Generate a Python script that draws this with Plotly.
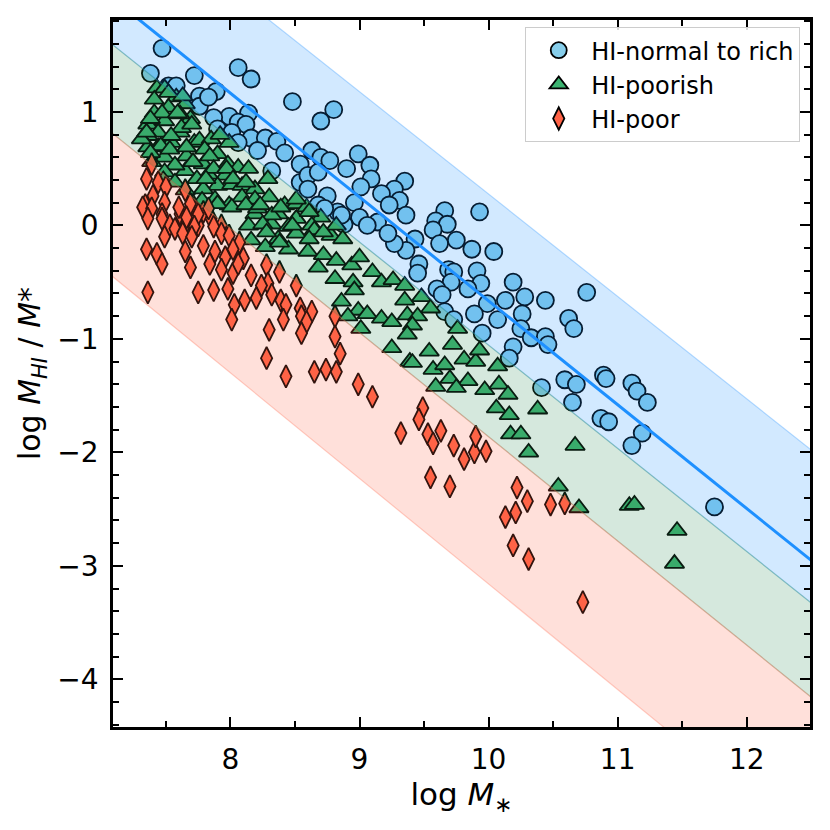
import plotly.graph_objects as go

# HI-normal to rich (circles)
normal_x = [7.47, 7.38, 7.72, 8.06, 8.16, 7.52, 7.58, 7.76, 7.89, 7.76, 7.83, 8.48, 8.80, 8.70, 8.14,
            7.99, 8.06, 7.87, 7.90, 8.12, 8.01, 8.16, 8.27, 8.36, 8.21, 8.42, 8.06, 8.54, 8.63, 8.70,
            8.77, 8.99, 8.90, 9.08, 9.09, 8.54, 8.60, 8.68, 8.60, 8.75, 9.35, 9.27, 9.17, 9.01, 8.96,
            9.31, 9.36, 9.23, 8.83, 9.00, 9.14, 8.32, 8.88, 9.06, 8.68, 9.66, 9.93, 9.59, 9.68, 9.57,
            9.43, 9.62, 9.75, 9.87, 10.04, 9.36, 9.46, 9.45, 9.69, 9.73, 9.91, 9.71, 9.94, 9.84, 9.60,
            9.64, 10.19, 10.28, 10.13, 9.99, 10.44, 10.76, 10.26, 9.89, 9.66, 10.07, 9.73, 10.25, 9.95, 10.33,
            10.44, 10.46, 10.62, 10.66, 10.19, 10.16, 10.89, 10.59, 10.68, 11.11, 11.15, 11.23, 10.41, 10.65, 10.87,
            10.93, 11.19, 11.11, 11.75, 10.91, 9.27, 9.22, 8.73, 8.86]
normal_y = [1.56, 1.34, 1.32, 1.39, 1.29, 1.23, 1.23, 1.14, 1.18, 1.05, 1.13, 1.09, 1.02, 0.92, 0.99,
            0.96, 0.91, 0.95, 0.85, 0.89, 0.82, 0.77, 0.77, 0.74, 0.66, 0.64, 0.73, 0.54, 0.66, 0.60,
            0.57, 0.63, 0.50, 0.53, 0.41, 0.38, 0.44, 0.47, 0.32, 0.26, 0.39, 0.32, 0.28, 0.34, 0.20,
            0.22, 0.09, 0.18, 0.12, 0.07, 0.03, 0.48, 0.01, 0.00, 0.18, 0.13, 0.12, 0.04, 0.01, -0.04,
            -0.12, -0.16, -0.13, -0.21, -0.23, -0.22, -0.34, -0.42, -0.39, -0.41, -0.40, -0.50, -0.51, -0.56, -0.56,
            -0.61, -0.50, -0.63, -0.66, -0.69, -0.66, -0.59, -0.78, -0.78, -0.76, -0.83, -0.83, -0.91, -0.95, -0.99,
            -0.98, -1.05, -0.82, -0.91, -1.07, -1.17, -1.32, -1.36, -1.40, -1.39, -1.46, -1.56, -1.43, -1.56, -1.70,
            -1.73, -1.83, -1.94, -2.48, -1.35, -0.16, -0.07, 0.15, 0.09]

# HI-poorish (triangles)
poorish_x = [7.43, 7.49, 7.41, 7.58, 7.65, 7.52, 7.41, 7.69, 7.61, 7.49, 7.36, 7.44, 7.61, 7.54, 7.36,
             7.36, 7.44, 7.66, 7.49, 7.72, 7.76, 7.85, 7.99, 7.80, 7.90, 7.98, 8.06, 8.14, 7.79, 7.65,
             7.57, 7.49, 7.83, 7.74, 7.96, 7.90, 8.01, 8.09, 8.19, 8.29, 7.79, 8.09, 8.19, 8.30, 7.88,
             7.99, 7.78, 8.42, 8.51, 8.59, 8.37, 8.19, 8.51, 8.70, 8.32, 8.14, 8.63, 8.45,
             7.31, 7.39, 7.48, 7.57, 7.65,
             7.90, 8.01, 8.12, 8.21, 8.32, 8.39, 8.51, 8.65, 8.78, 8.25, 8.37, 8.27, 8.16, 8.45, 8.60,
             8.72, 8.82, 8.94, 9.00, 9.10, 8.68, 8.81, 8.95, 8.96, 9.17, 9.26, 9.35, 8.86, 8.99, 9.06,
             9.17, 9.25, 9.35, 9.37, 8.91, 9.01, 9.25, 9.39,
             9.48, 9.55, 9.45, 9.41, 9.37, 9.76, 9.72, 9.54, 9.41, 9.57, 9.66, 9.81, 9.90, 9.93, 9.70,
             9.84, 10.07, 9.97, 10.08, 10.15, 9.59, 9.75, 10.06, 10.38,
             10.16, 10.17, 10.25, 10.31, 10.67, 10.54, 10.70, 11.09, 11.13, 11.46, 11.44,
             7.52, 7.63, 7.47, 7.59, 7.38, 7.62, 7.70, 7.35, 7.54, 7.46, 7.38, 7.53, 7.66, 7.92, 7.71,
             7.84, 7.87, 7.97, 8.02, 8.12, 7.81, 8.23, 8.51, 8.61, 8.82, 8.87, 8.48, 8.28, 8.38, 8.61,
             8.72]
poorish_y = [1.21, 1.21, 1.11, 1.13, 1.07, 1.04, 0.99, 0.94, 0.98, 0.92, 0.89, 0.82, 0.82, 0.73, 0.79,
             0.69, 0.69, 0.61, 0.60, 0.73, 0.75, 0.76, 0.73, 0.67, 0.63, 0.54, 0.51, 0.50, 0.54, 0.48,
             0.53, 0.47, 0.45, 0.41, 0.44, 0.35, 0.36, 0.35, 0.32, 0.41, 0.32, 0.25, 0.23, 0.25, 0.23,
             0.18, 0.22, 0.18, 0.19, 0.16, 0.10, 0.10, 0.06, 0.07, 0.01, 0.00, 0.00, -0.01,
             0.76, 0.56, 0.40, 0.38, 0.31,
             0.19, 0.16, 0.18, 0.15, 0.09, 0.16, -0.07, -0.04, -0.09, 0.01, -0.12, -0.19, -0.13, -0.21, -0.23,
             -0.26, -0.31, -0.35, -0.28, -0.41, -0.37, -0.47, -0.50, -0.57, -0.50, -0.48, -0.53, -0.67, -0.75, -0.78,
             -0.82, -0.85, -0.66, -0.79, -0.80, -0.91, -1.08, -1.20,
             -0.63, -0.73, -0.80, -0.88, -0.96, -0.91, -1.05, -1.11, -1.21, -1.27, -1.23, -1.18, -1.20, -1.10, -1.35,
             -1.37, -1.24, -1.45, -1.40, -1.49, -1.42, -1.43, -1.61, -1.62,
             -1.67, -1.84, -1.84, -2.00, -1.94, -2.30, -2.49, -2.47, -2.46, -2.69, -2.98,
             1.17, 1.14, 0.99, 0.99, 0.94, 0.86, 0.89, 0.82, 0.79, 0.70, 0.64, 0.67, 0.69, 0.80, 0.56,
             0.61, 0.50, 0.50, 0.41, 0.38, 0.41, 0.18, 0.23, 0.12, 0.00, -0.12, 0.00, -0.06, -0.15, -0.12,
             -0.06]

# HI-poor (diamonds)
poor_x = [7.39, 7.35, 7.44, 7.50, 7.65, 7.34, 7.49, 7.40, 7.71, 7.61, 7.47, 7.79, 7.85, 7.66, 7.75,
          7.93, 7.53, 7.32, 7.39, 7.60, 7.69, 7.75, 7.83, 7.36, 7.47, 7.57, 7.66, 7.72, 7.63, 7.49,
          7.35, 7.43, 7.47, 7.70, 7.79, 7.65, 7.69, 7.87, 7.93, 7.99, 8.07, 7.88, 7.96, 8.02, 8.10,
          7.84, 7.93, 8.02, 8.16, 8.06, 8.28, 8.38, 8.29, 8.24, 8.51, 7.36, 7.75, 7.87, 7.98, 8.11,
          8.20, 8.32, 8.39, 8.03, 8.43, 8.54, 8.63, 8.01, 8.41, 8.55, 8.59, 8.81, 8.30, 8.55, 8.81,
          8.85, 8.28, 8.65, 8.74, 8.82, 8.43, 8.99, 9.10,
          9.49, 9.46, 9.32, 9.53, 9.57, 9.63, 9.73, 9.81, 9.89, 9.90, 9.98, 9.55, 9.70, 10.22, 10.30,
          10.48, 10.59, 10.21, 10.13, 10.19, 10.31, 10.73]
poor_y = [0.54, 0.41, 0.38, 0.34, 0.31, 0.18, 0.20, 0.26, 0.18, 0.10, 0.10, 0.12, 0.06, 0.03, 0.00,
          0.00, 0.00, 0.16, 0.15, 0.16, 0.19, 0.10, 0.15, 0.06, 0.06, -0.03, 0.07, -0.01, -0.07, -0.10,
          -0.21, -0.25, -0.34, -0.10, -0.18, -0.23, -0.37, -0.01, -0.07, -0.09, -0.15, -0.23, -0.28, -0.21, -0.29,
          -0.34, -0.39, -0.42, -0.44, -0.34, -0.35, -0.41, -0.51, -0.53, -0.53, -0.59, -0.59, -0.57, -0.56, -0.66,
          -0.64, -0.61, -0.66, -0.70, -0.70, -0.73, -0.76, -0.83, -0.83, -0.80, -0.85, -0.80, -0.92, -0.95, -0.98,
          -1.13, -1.17, -1.29, -1.27, -1.29, -1.33, -1.40, -1.51,
          -1.61, -1.71, -1.83, -1.84, -1.92, -1.81, -1.94, -2.06, -2.00, -1.86, -1.99, -2.22, -2.30, -2.31, -2.43,
          -2.46, -2.45, -2.53, -2.57, -2.82, -2.94, -3.32]

# relation lines: slope and value at log M* = 10
fit_slope, fit_y10 = -0.915, -0.665
edge_slopes = [-0.902, -0.909, -0.918, -0.930]   # top of blue, blue/green, green/red, bottom of red
edge_y10 = [0.276, -1.056, -1.863, -3.160]
line_x = [7.0, 12.6]

x_ticks = [8, 9, 10, 11, 12]
y_ticks = [-4, -3, -2, -1, 0, 1]


def edge(slope, y10):
    return [y10 + slope * (x - 10) for x in line_x]


fig = go.Figure()

marker_line = dict(color='black', width=1.8)
fig.add_trace(go.Scatter(x=normal_x, y=normal_y, mode='markers', name='HI-normal to rich',
                         marker=dict(symbol='circle', size=17, color='#87CEEB', line=marker_line)))
fig.add_trace(go.Scatter(x=poorish_x, y=poorish_y, mode='markers', name='HI-poorish',
                         marker=dict(symbol='triangle-up', size=17, color='#3CB371', line=marker_line)))
fig.add_trace(go.Scatter(x=poor_x, y=poor_y, mode='markers', name='HI-poor',
                         marker=dict(symbol='diamond-tall', size=16, color='#FF6347', line=marker_line)))

# shaded bands sit on top of the points, like fill_between with alpha
bands = [('30,144,255', 0, 1), ('46,139,87', 1, 2), ('255,99,71', 2, 3)]
for rgb, i, j in bands:
    top = edge(edge_slopes[i], edge_y10[i])
    bot = edge(edge_slopes[j], edge_y10[j])
    fig.add_trace(go.Scatter(x=line_x + line_x[::-1], y=top + bot[::-1], mode='lines',
                             fill='toself', fillcolor=f'rgba({rgb},0.2)',
                             line=dict(color=f'rgba({rgb},0.3)', width=1.2),
                             showlegend=False, hoverinfo='skip'))

fig.add_trace(go.Scatter(x=line_x, y=edge(fit_slope, fit_y10), mode='lines',
                         line=dict(color='#1E90FF', width=3), showlegend=False))

axis_common = dict(showline=True, linecolor='black', linewidth=2.5, mirror='allticks',
                   ticks='inside', ticklen=10, tickwidth=2, tickcolor='black',
                   showgrid=False, zeroline=False,
                   tickfont=dict(size=28, color='black'), ticklabelstandoff=6)

fig.update_xaxes(range=[7.09, 12.49], tickvals=x_ticks,
                 minor=dict(ticks='inside', dtick=0.5, ticklen=6, tickwidth=1.5, tickcolor='black'),
                 title=dict(text='log <i>M</i><sub>∗</sub>', font=dict(size=31, color='black'), standoff=4),
                 **axis_common)
fig.update_yaxes(range=[-4.42, 1.81], tickvals=y_ticks,
                 minor=dict(ticks='inside', dtick=0.2, ticklen=6, tickwidth=1.5, tickcolor='black'),
                 title=dict(text='log <i>M</i><sub><i>HI</i></sub> / <i>M</i>*',
                            font=dict(size=30, color='black'), standoff=8),
                 **axis_common)

# page body adds an 8px offset, so margins are shifted to compensate
fig.update_layout(
    width=830, height=830,
    margin=dict(l=105, r=28, t=9, b=111),
    plot_bgcolor='white', paper_bgcolor='white',
    font=dict(family='DejaVu Sans', color='black'),
    legend=dict(x=0.986, y=0.99, xanchor='right', yanchor='top',
                bgcolor='rgba(255,255,255,0.85)', bordercolor='#cccccc', borderwidth=1,
                itemwidth=55, font=dict(size=24, color='black')),
)

fig.write_html("out.html")
